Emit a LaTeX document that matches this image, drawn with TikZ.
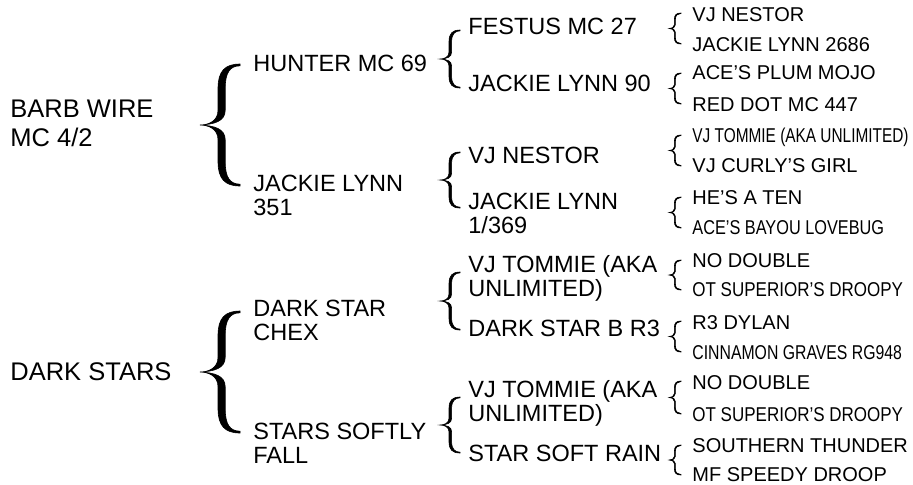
\documentclass[tikz,border=0pt]{standalone}
\usepackage{graphicx}
\usepackage{fontspec}
\setmainfont{Liberation Sans}
\usepackage{tikz}

\newcommand{\cond}[2]{\scalebox{#1}[1]{#2}}

\tikzset{
  gen/.style={anchor=north west,inner sep=0pt,align=left},
  sire/.style={gen,font=\fontsize{12.75}{14.25}\selectfont},
  dam/.style={gen,font=\fontsize{11.75}{12}\selectfont},
  grand/.style={gen,font=\fontsize{10}{12}\selectfont},
  pics/curly/.style={code={
    \filldraw[line width=0.3pt] (1,0) .. controls (0.62,0) and (0.45,0.06) .. (0.45,0.2)
      -- (0.45,0.38) .. controls (0.45,0.47) and (0.2,0.5) .. (0,0.5)
      .. controls (0.2,0.5) and (0.45,0.53) .. (0.45,0.62)
      -- (0.45,0.8) .. controls (0.45,0.94) and (0.62,1) .. (1,1)
      -- (1,0.985) .. controls (0.75,0.985) and (#1,0.93) .. (#1,0.8)
      -- (#1,0.62) .. controls (#1,0.53) and (0.35,0.505) .. (0,0.5)
      .. controls (0.35,0.495) and (#1,0.47) .. (#1,0.38)
      -- (#1,0.2) .. controls (#1,0.07) and (0.75,0.015) .. (1,0.015) -- cycle;
  }},
  pics/curly/.default=0.62
}

\begin{document}
\begin{tikzpicture}[x=0.5pt,y=-0.5pt]
\useasboundingbox (0,0) rectangle (913,484);

\node[sire] (barb) at (10,100) {BARB WIRE\\MC 4/2};
\node[sire] (dark) at (10,362) {DARK STARS};

\node[dam] (hunter) at (253,55) {HUNTER MC 69};
\node[dam] (jl351) at (253,175) {JACKIE LYNN\\351};
\node[dam] (chex) at (253,300) {DARK STAR\\CHEX};
\node[dam] (softly) at (253,423) {STARS SOFTLY\\FALL};

\node[dam] (festus) at (468,18) {FESTUS MC 27};
\node[dam] (jl90) at (468,75) {JACKIE LYNN 90};
\node[dam] (nestor) at (468,147) {VJ NESTOR};
\node[dam] (jl369) at (468,193) {JACKIE LYNN\\1/369};
\node[dam] (tommieA) at (468,255) {VJ TOMMIE (AKA\\UNLIMITED)};
\node[dam] (starB) at (468,320) {DARK STAR B R3};
\node[dam] (tommieB) at (468,380) {VJ TOMMIE (AKA\\UNLIMITED)};
\node[dam] (rain) at (468,445) {STAR SOFT RAIN};

\node[grand] (nestorA) at (692,7) {VJ NESTOR};
\node[grand] (jl2686) at (692,37) {JACKIE LYNN 2686};
\node[grand] (mojo) at (692,65) {ACE’S PLUM MOJO};
\node[grand] (reddot) at (692,97) {RED DOT MC 447};
\node[grand] (tommieC) at (692,128) {\cond{0.77}{VJ TOMMIE (AKA UNLIMITED)}};
\node[grand] (curlys) at (692,158) {VJ CURLY’S GIRL};
\node[grand] (ten) at (692,190) {HE’S A TEN};
\node[grand] (lovebug) at (692,220) {\cond{0.815}{ACE’S BAYOU LOVEBUG}};
\node[grand] (doubleA) at (692,253) {NO DOUBLE};
\node[grand] (droopyA) at (692,282) {\cond{0.85}{OT SUPERIOR’S DROOPY}};
\node[grand] (dylan) at (692,315) {R3 DYLAN};
\node[grand] (graves) at (692,345) {\cond{0.79}{CINNAMON GRAVES RG948}};
\node[grand] (doubleB) at (692,375) {NO DOUBLE};
\node[grand] (droopyB) at (692,407) {\cond{0.85}{OT SUPERIOR’S DROOPY}};
\node[grand] (thunder) at (692,438) {SOUTHERN THUNDER};
\node[grand] (speedy) at (692,467) {MF SPEEDY DROOP};

\coordinate (bBarb) at (200,64);
\coordinate (bDark) at (200,311);
\pic[xscale=40,yscale=122] at (bBarb) {curly=0.63};
\pic[xscale=40,yscale=122] at (bDark) {curly=0.63};

\coordinate (bHunter) at (440,30);
\coordinate (bJl351) at (440,152);
\coordinate (bChex) at (440,272);
\coordinate (bSoftly) at (440,397);
\pic[xscale=20,yscale=58] at (bHunter) {curly=0.58};
\pic[xscale=20,yscale=56] at (bJl351) {curly=0.58};
\pic[xscale=20,yscale=58] at (bChex) {curly=0.58};
\pic[xscale=20,yscale=56] at (bSoftly) {curly=0.58};

\foreach \y/\h in {13/31,73/31,135/31,197/31,260/30,321/31,381/33,445/30}
  \pic[xscale=12,yscale=\h] at (669,\y) {curly=0.53};
\end{tikzpicture}
\end{document}
